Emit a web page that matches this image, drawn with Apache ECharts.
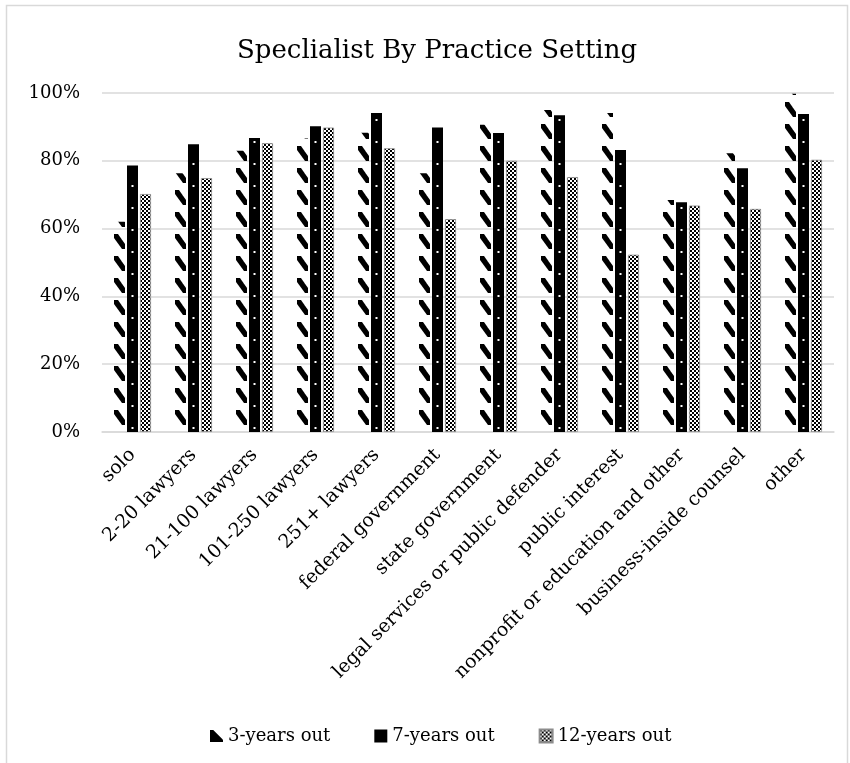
<!DOCTYPE html>
<html>
<head>
<meta charset="utf-8">
<script src="https://cdn.jsdelivr.net/npm/echarts@6/dist/echarts.min.js"></script>
<style>html,body{margin:0;padding:0;background:#fff;}#c{width:850px;height:763px;}</style>
</head>
<body>
<div id="c"></div>
<script>
const categories = ['solo','2-20 lawyers','21-100 lawyers','101-250 lawyers','251+ lawyers','federal government','state government','legal services or public defender','public interest','nonprofit or education and other','business-inside counsel','other'];
const seriesNames = ['3-years out','7-years out','12-years out'];
const years3 = [62.0, 76.3, 83.0, 86.6, 88.3, 76.3, 90.6, 95.0, 94.1, 68.4, 82.2, 99.8];
const years7 = [78.6, 84.9, 86.7, 90.2, 94.1, 89.8, 88.2, 93.4, 83.2, 67.8, 77.8, 93.8];
const years12 = [70.2, 74.9, 85.2, 89.8, 83.7, 62.8, 80.0, 75.2, 52.3, 66.8, 65.8, 80.3];
const yTicks = [0, 20, 40, 60, 80, 100];

const FONT = 'DejaVu Serif';
const GRID_LEFT = 102, GRID_RIGHT = 16; // plot width 732 -> band 61
const BAND = 61, TILE_H = 22;

function mk(w, h) { const c = document.createElement('canvas'); c.width = w; c.height = h; return c; }

// diagonal slashes for 3-years (aligned to bar column inside a band-wide tile)
const p3 = mk(BAND, TILE_H);
(function () {
  const g = p3.getContext('2d');
  g.fillStyle = '#000';
  const bxs = [53, 53 - BAND];
  const ys = [14 - TILE_H, 14, 14 + TILE_H];
  bxs.forEach(bx => ys.forEach(y0 => {
    g.beginPath();
    g.moveTo(bx, y0);
    g.lineTo(bx + 4, y0);
    g.lineTo(bx + 11, y0 + 10);
    g.lineTo(bx + 11, y0 + 15);
    g.lineTo(bx + 8, y0 + 15);
    g.lineTo(bx, y0 + 4);
    g.closePath();
    g.fill();
  }));
})();

// black with small white dots for 7-years
const p7 = mk(BAND, TILE_H);
(function () {
  const g = p7.getContext('2d');
  g.fillStyle = '#000';
  g.fillRect(0, 0, BAND, TILE_H);
  g.fillStyle = '#fff';
  g.fillRect(5 + 4.5, 9, 2, 2);
})();

// checker for 12-years
const p12 = mk(4, 4);
(function () {
  const g = p12.getContext('2d');
  g.fillStyle = '#fff';
  g.fillRect(0, 0, 4, 4);
  g.fillStyle = '#000';
  g.fillRect(0, 0, 2, 2);
  g.fillRect(2, 2, 2, 2);
})();

const chart = echarts.init(document.getElementById('c'), null, { renderer: 'canvas' });
const barCommon = { type: 'bar', barWidth: 11, barGap: '18.1818%', barCategoryGap: '40%' };
chart.setOption({
  animation: false,
  backgroundColor: '#fff',
  title: {
    text: 'Speclialist By Practice Setting',
    left: 232,
    top: 33,
    textStyle: { fontFamily: FONT, fontSize: 26, fontWeight: 'normal', color: '#000' }
  },
  graphic: [{
    type: 'rect', silent: true, z: -10,
    shape: { x: 6.5, y: 5.5, width: 841, height: 820 },
    style: { fill: 'none', stroke: '#d9d9d9', lineWidth: 1.5 }
  }],
  legend: {
    left: 205, top: 722,
    itemWidth: 13, itemHeight: 13, itemGap: 44,
    textStyle: { fontFamily: FONT, fontSize: 18, color: '#000' },
    data: [
      { name: seriesNames[0], icon: 'path://M0,2 L3,2 L12,11 L12,13 L0,13 Z', itemStyle: { color: '#000' } },
      { name: seriesNames[1], icon: 'rect', itemStyle: { color: '#000' } },
      { name: seriesNames[2], icon: 'rect', itemStyle: { color: { image: p12, repeat: 'repeat' } } }
    ]
  },
  grid: { left: GRID_LEFT, right: GRID_RIGHT, top: 93, bottom: 331, containLabel: false },
  xAxis: {
    type: 'category',
    data: categories,
    axisLine: { lineStyle: { color: '#d9d9d9', width: 1.5 } },
    axisTick: { show: false },
    axisLabel: { interval: 0, rotate: 45, margin: 20, fontFamily: FONT, fontSize: 19, color: '#000' }
  },
  yAxis: {
    type: 'value',
    min: yTicks[0], max: yTicks[yTicks.length - 1], interval: 20,
    axisLine: { show: false },
    axisTick: { show: false },
    splitLine: { lineStyle: { color: '#d9d9d9', width: 1.5 } },
    axisLabel: { formatter: '{value}%', margin: 22, fontFamily: FONT, fontSize: 18, color: '#000' }
  },
  series: [
    Object.assign({}, barCommon, { name: seriesNames[0], data: years3, itemStyle: { color: { image: p3, repeat: 'repeat' } } }),
    Object.assign({}, barCommon, { name: seriesNames[1], data: years7, itemStyle: { color: { image: p7, repeat: 'repeat' } } }),
    Object.assign({}, barCommon, { name: seriesNames[2], data: years12, itemStyle: { color: { image: p12, repeat: 'repeat' }, borderColor: '#8c8c8c', borderWidth: 0.8 } })
  ]
});
</script>
</body>
</html>
